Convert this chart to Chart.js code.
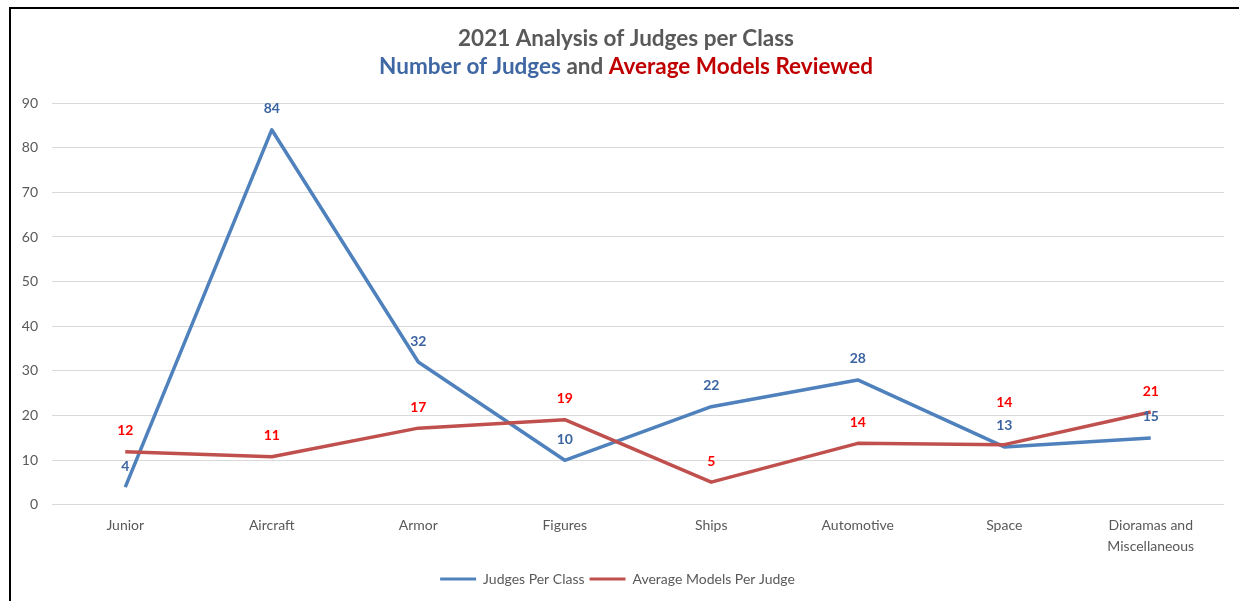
<!DOCTYPE html>
<html>
<head>
<meta charset="utf-8">
<script src="https://cdn.jsdelivr.net/npm/chart.js@4.4.1/dist/chart.umd.min.js"></script>
<style>
    html, body { margin: 0; padding: 0; background: #fff; overflow: hidden; }
    #frame {
        position: absolute; left: 9px; top: 7px;
        width: 1240px; height: 610px;
        border-left: 2px solid #000; border-top: 2px solid #000;
    }
    #judgesChart { position: absolute; left: 0; top: 0; }
</style>
</head>
<body>
<div id="frame"><canvas id="judgesChart" width="1228" height="592"></canvas></div>
<script>
// chart data
var classes = ['Junior', 'Aircraft', 'Armor', 'Figures', 'Ships', 'Automotive', 'Space', ['Dioramas and', 'Miscellaneous']];
var judgesPerClass = [4, 84, 32, 10, 22, 28, 13, 15];
var avgModelsPerJudge = [11.9, 10.8, 17.2, 19.1, 5.1, 13.8, 13.5, 20.8];
var yTicks = [0, 10, 20, 30, 40, 50, 60, 70, 80, 90];

var FONT = 'Lato, "Open Sans", sans-serif';
var GREY = '#595959';
var BLUE = '#4F81BD', BLUE_TXT = '#3B64A0';
var RED = '#C0504D', RED_TXT = '#FF0000';

// title with coloured words
var titlePlugin = {
    id: 'colourTitle',
    afterDraw: function(chart) {
        var c = chart.ctx;
        var cx = 615;
        c.save();
        c.textBaseline = 'middle';
        c.font = 'bold 22.5px ' + FONT;
        c.fillStyle = GREY;
        c.textAlign = 'center';
        c.fillText('2021 Analysis of Judges per Class', cx, 30);

        var parts = [
            { t: 'Number of Judges', col: '#3E67A3' },
            { t: ' and ', col: GREY },
            { t: 'Average Models Reviewed', col: '#C00000' }
        ];
        var total = 0;
        parts.forEach(function(p) { total += c.measureText(p.t).width; });
        var x = cx - total / 2;
        c.textAlign = 'left';
        parts.forEach(function(p) {
            c.fillStyle = p.col;
            c.fillText(p.t, x, 58);
            x += c.measureText(p.t).width;
        });
        c.restore();
    }
};

// value labels above points (pushed higher where two labels would collide)
var valueLabels = {
    id: 'valueLabels',
    afterDatasetsDraw: function(chart) {
        var c = chart.ctx;
        var blueMeta = chart.getDatasetMeta(0);
        c.save();
        c.font = 'bold 14px ' + FONT;
        c.textAlign = 'center';
        c.textBaseline = 'middle';
        chart.data.datasets.forEach(function(ds, i) {
            var meta = chart.getDatasetMeta(i);
            meta.data.forEach(function(pt, j) {
                var dy = 21;
                if (i === 1 && Math.abs(blueMeta.data[j].y - pt.y) < 8) dy = 42;
                c.fillStyle = ds.labelColor;
                c.fillText(Math.round(ds.data[j]), pt.x, pt.y - dy);
            });
        });
        c.restore();
    }
};

var ctx = document.getElementById('judgesChart').getContext('2d');
var judgesChart = new Chart(ctx, {
    type: 'line',
    data: {
        labels: classes,
        datasets: [{
            label: 'Judges Per Class',
            data: judgesPerClass,
            borderColor: BLUE,
            backgroundColor: BLUE,
            labelColor: BLUE_TXT,
            borderWidth: 3.5,
            pointRadius: 0,
            tension: 0,
            borderJoinStyle: 'round',
            order: 1
        }, {
            label: 'Average Models Per Judge',
            data: avgModelsPerJudge,
            borderColor: RED,
            backgroundColor: RED,
            labelColor: RED_TXT,
            borderWidth: 3.5,
            pointRadius: 0,
            tension: 0,
            borderJoinStyle: 'round',
            order: 0
        }]
    },
    options: {
        responsive: false,
        animation: false,
        layout: { padding: { top: 94, right: 15, left: 0, bottom: 5 } },
        scales: {
            x: {
                offset: true,
                afterFit: function(scale) { scale.height += 8; },
                grid: { display: false },
                border: { display: false },
                ticks: { color: GREY, font: { family: FONT, size: 14, lineHeight: 1.43 }, padding: 3, maxRotation: 0 }
            },
            y: {
                min: 0,
                max: 90,
                afterBuildTicks: function(scale) {
                    scale.ticks = yTicks.map(function(v) { return { value: v }; });
                },
                afterFit: function(scale) { scale.width = 41; },
                grid: { color: '#D9D9D9', lineWidth: 1, drawTicks: false },
                border: { display: false },
                ticks: { color: GREY, font: { family: FONT, size: 14 }, padding: 14 }
            }
        },
        plugins: {
            title: { display: false },
            tooltip: { enabled: false },
            legend: {
                position: 'bottom',
                labels: {
                    boxWidth: 36,
                    boxHeight: 3,
                    padding: 5,
                    color: GREY,
                    font: { family: FONT, size: 14 },
                    generateLabels: function(chart) {
                        return chart.data.datasets.map(function(ds, i) {
                            return {
                                text: ds.label,
                                fillStyle: ds.borderColor,
                                strokeStyle: ds.borderColor,
                                lineWidth: 0,
                                fontColor: GREY,
                                datasetIndex: i
                            };
                        });
                    }
                }
            }
        }
    },
    plugins: [titlePlugin, valueLabels]
});
</script>
</body>
</html>
